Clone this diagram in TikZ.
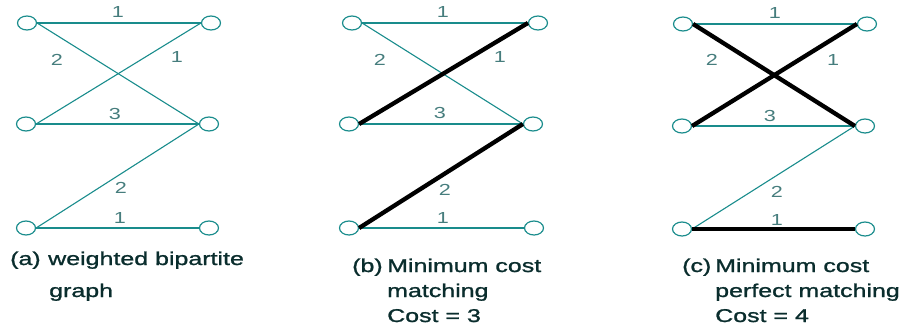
\documentclass[tikz,border=0pt]{standalone}
\usepackage{fontspec}
\setmainfont{Liberation Sans}[FakeStretch=1.35]
\newfontfamily\capfont{Liberation Sans}[FakeStretch=1.35, FakeBold=1.2]
\usetikzlibrary{shapes.geometric}
\definecolor{edgeteal}{RGB}{25,140,140}
\definecolor{labteal}{RGB}{70,125,125}
\definecolor{captxt}{RGB}{10,45,45}
\tikzset{
  vtx/.style={ellipse, draw=edgeteal, line width=1.2pt, fill=white, minimum width=19pt, minimum height=14pt, inner sep=0pt},
  edgethin/.style={draw=edgeteal, line width=1.1pt},
  edgethick/.style={draw=black, line width=4.3pt},
  wlab/.style={text=labteal, font=\fontsize{16}{16}\selectfont, inner sep=0pt},
  captext/.style={text=captxt, font=\capfont\fontsize{18.5}{18.5}\selectfont, inner sep=0pt, anchor=base west}
}
\begin{document}
\begin{tikzpicture}[x=1pt,y=-1pt]
\useasboundingbox (0,0) rectangle (906,330);
% ---------- panel (a)
\node[vtx] (aL1) at (27,23) {};
\node[vtx] (aL2) at (26,124) {};
\node[vtx] (aL3) at (26,228) {};
\node[vtx] (aR1) at (211,23) {};
\node[vtx] (aR2) at (209,124) {};
\node[vtx] (aR3) at (209,228) {};
\draw[edgethin] (aL1.east) -- (aR1.west);
\draw[edgethin] (aL1.east) -- (aR2.west);
\draw[edgethin] (aL2.east) -- (aR1.west);
\draw[edgethin] (aL2.east) -- (aR2.west);
\draw[edgethin] (aL3.east) -- (aR2.west);
\draw[edgethin] (aL3.east) -- (aR3.west);
\node[wlab] (aw1) at (118,12) {1};
\node[wlab] (aw2) at (57,60) {2};
\node[wlab] (aw3) at (177,57) {1};
\node[wlab] (aw4) at (115,114) {3};
\node[wlab] (aw5) at (121,188) {2};
\node[wlab] (aw6) at (120,218) {1};
\node[captext] (acap0) at (10,265) {(a)};
\node[captext] (acap1) at (48,265) {weighted bipartite};
\node[captext] (acap2) at (49,297) {graph};
% ---------- panel (b)
\node[vtx] (bL1) at (352,23) {};
\node[vtx] (bL2) at (349,124) {};
\node[vtx] (bL3) at (349,228) {};
\node[vtx] (bR1) at (538,23) {};
\node[vtx] (bR2) at (533,124) {};
\node[vtx] (bR3) at (534,228) {};
\draw[edgethin] (bL1.east) -- (bR1.west);
\draw[edgethin] (bL1.east) -- (bR2.west);
\draw[edgethin] (bL2.east) -- (bR2.west);
\draw[edgethin] (bL3.east) -- (bR3.west);
\draw[edgethick] (bL2.east) -- (bR1.west);
\draw[edgethick] (bL3.east) -- (bR2.west);
\node[wlab] (bw1) at (443,12) {1};
\node[wlab] (bw2) at (380,60) {2};
\node[wlab] (bw3) at (500,57) {1};
\node[wlab] (bw4) at (440,113) {3};
\node[wlab] (bw5) at (445,190) {2};
\node[wlab] (bw6) at (443,218) {1};
\node[captext] (bcap0) at (352,272) {(b)};
\node[captext] (bcap1) at (387,272) {Minimum cost};
\node[captext] (bcap2) at (387,297) {matching};
\node[captext] (bcap3) at (387,322) {Cost = 3};
% ---------- panel (c)
\node[vtx] (cL1) at (683,24) {};
\node[vtx] (cL2) at (682,126) {};
\node[vtx] (cL3) at (682,229) {};
\node[vtx] (cR1) at (867,24) {};
\node[vtx] (cR2) at (865,126) {};
\node[vtx] (cR3) at (865,229) {};
\draw[edgethin] (cL1.east) -- (cR1.west);
\draw[edgethin] (cL2.east) -- (cR2.west);
\draw[edgethin] (cL3.east) -- (cR2.west);
\draw[edgethick] (cL1.east) -- (cR2.west);
\draw[edgethick] (cL2.east) -- (cR1.west);
\draw[edgethick] (cL3.east) -- (cR3.west);
\node[wlab] (cw1) at (775,13) {1};
\node[wlab] (cw2) at (712,60) {2};
\node[wlab] (cw3) at (833,60) {1};
\node[wlab] (cw4) at (770,116) {3};
\node[wlab] (cw5) at (777,192) {2};
\node[wlab] (cw6) at (777,220) {1};
\node[captext] (ccap0) at (682,272) {(c)};
\node[captext] (ccap1) at (715,272) {Minimum cost};
\node[captext] (ccap2) at (715,297) {perfect matching};
\node[captext] (ccap3) at (715,322) {Cost = 4};
\end{tikzpicture}
\end{document}
